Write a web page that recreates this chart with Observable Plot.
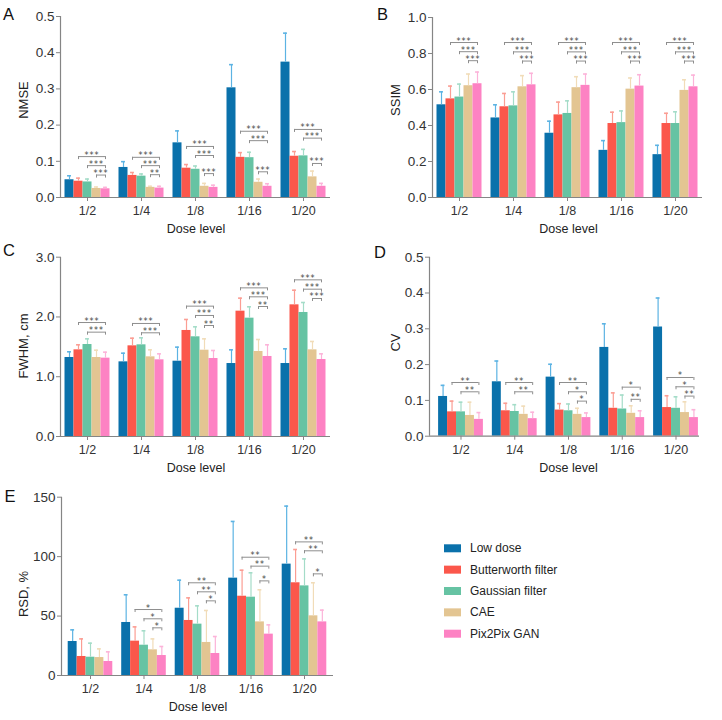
<!DOCTYPE html>
<html>
<head>
<meta charset="utf-8">
<script src="https://cdn.jsdelivr.net/npm/d3@7"></script>
<script src="https://cdn.jsdelivr.net/npm/@observablehq/plot@0.6"></script>
<style>
  body { margin: 0; background: #fff; }
  #root { position: relative; width: 722px; height: 720px; overflow: hidden; font-family: "Liberation Sans", Arial, Helvetica, sans-serif; }
  .panel { position: absolute; }
  #overlay { position: absolute; left: 0; top: 0; pointer-events: none; }
  .panel g[aria-label="text"] text { letter-spacing: 1px; font-family: "DejaVu Sans", sans-serif; }
  .panel g[aria-label="y-axis tick label"] text { font-size: 13.5px; }
</style>
</head>
<body>
<div id="root"></div>
<script>
// ---------- data ----------
const doses = ["1/2", "1/4", "1/8", "1/16", "1/20"];
const methods = ["Low dose", "Butterworth filter", "Gaussian filter", "CAE", "Pix2Pix GAN"];
const methodColors = ["#0a71ab", "#fb574b", "#66c3a3", "#e3c592", "#fd82c3"];
const errorColors = ["#5cb3e3", "#fb9d93", "#a4dcc8", "#f1dcb8", "#fcb3d9"];

// rows = dose level, columns = method
const nmseMean = [
  [0.049, 0.045, 0.043, 0.025, 0.024],
  [0.083, 0.061, 0.059, 0.028, 0.026],
  [0.151, 0.081, 0.078, 0.031, 0.028],
  [0.303, 0.111, 0.110, 0.042, 0.031],
  [0.374, 0.114, 0.115, 0.057, 0.031]
];
const nmseSD = [
  [0.011, 0.0085, 0.008, 0.004, 0.004],
  [0.016, 0.008, 0.006, 0.003, 0.005],
  [0.033, 0.010, 0.009, 0.008, 0.006],
  [0.064, 0.013, 0.015, 0.009, 0.007],
  [0.080, 0.013, 0.018, 0.016, 0.008]
];
// [dose index, method from, method to, label, bracket level]
const nmseSig = [
  [0, 1, 4, "***", 0.113], [0, 2, 4, "***", 0.088], [0, 3, 4, "***", 0.062],
  [1, 1, 4, "***", 0.111], [1, 2, 4, "***", 0.088], [1, 3, 4, "**", 0.063],
  [2, 1, 4, "***", 0.141], [2, 2, 4, "***", 0.116], [2, 3, 4, "***", 0.066],
  [3, 1, 4, "***", 0.183], [3, 2, 4, "***", 0.157], [3, 3, 4, "***", 0.071],
  [4, 1, 4, "***", 0.188], [4, 2, 4, "***", 0.164], [4, 3, 4, "***", 0.094]
];
const nmseTicks = [0, 0.1, 0.2, 0.3, 0.4, 0.5];

const ssimMean = [
  [0.515, 0.548, 0.558, 0.621, 0.632],
  [0.442, 0.504, 0.509, 0.615, 0.626],
  [0.357, 0.459, 0.467, 0.610, 0.623],
  [0.262, 0.411, 0.416, 0.602, 0.619],
  [0.238, 0.411, 0.411, 0.595, 0.615]
];
const ssimSD = [
  [0.072, 0.071, 0.072, 0.065, 0.065],
  [0.073, 0.074, 0.078, 0.062, 0.064],
  [0.067, 0.071, 0.070, 0.061, 0.063],
  [0.054, 0.063, 0.065, 0.062, 0.063],
  [0.052, 0.057, 0.065, 0.059, 0.065]
];
const ssimSig = [
  [0, 1, 4, "***", 0.861], [0, 2, 4, "***", 0.810], [0, 3, 4, "***", 0.760],
  [1, 1, 4, "***", 0.861], [1, 2, 4, "***", 0.809], [1, 3, 4, "***", 0.758],
  [2, 1, 4, "***", 0.861], [2, 2, 4, "***", 0.809], [2, 3, 4, "***", 0.758],
  [3, 1, 4, "***", 0.861], [3, 2, 4, "***", 0.809], [3, 3, 4, "***", 0.758],
  [4, 1, 4, "***", 0.861], [4, 2, 4, "***", 0.809], [4, 3, 4, "***", 0.758]
];
const ssimTicks = [0, 0.2, 0.4, 0.6, 0.8, 1.0];

const fwhmMean = [
  [1.322, 1.450, 1.539, 1.322, 1.311],
  [1.249, 1.517, 1.534, 1.333, 1.283],
  [1.260, 1.774, 1.668, 1.444, 1.305],
  [1.221, 2.097, 1.980, 1.422, 1.339],
  [1.221, 2.203, 2.075, 1.450, 1.288]
];
const fwhmSD = [
  [0.095, 0.084, 0.095, 0.122, 0.100],
  [0.145, 0.128, 0.117, 0.117, 0.100],
  [0.235, 0.184, 0.167, 0.190, 0.134],
  [0.229, 0.218, 0.190, 0.201, 0.195],
  [0.246, 0.245, 0.167, 0.140, 0.095]
];
const fwhmSig = [
  [0, 1, 4, "***", 1.907], [0, 2, 4, "***", 1.746],
  [1, 1, 4, "***", 1.891], [1, 2, 4, "***", 1.735],
  [2, 1, 4, "***", 2.181], [2, 2, 4, "***", 2.025], [2, 3, 4, "**", 1.857],
  [3, 1, 4, "***", 2.487], [3, 2, 4, "***", 2.337], [3, 3, 4, "**", 2.175],
  [4, 1, 4, "***", 2.621], [4, 2, 4, "***", 2.465], [4, 3, 4, "***", 2.309]
];
const fwhmTicks = [0, 1, 2, 3];

const cvMean = [
  [0.111, 0.068, 0.068, 0.058, 0.047],
  [0.152, 0.071, 0.069, 0.061, 0.049],
  [0.165, 0.073, 0.071, 0.061, 0.052],
  [0.248, 0.078, 0.076, 0.064, 0.052],
  [0.305, 0.080, 0.078, 0.066, 0.052]
];
const cvSD = [
  [0.031, 0.030, 0.027, 0.037, 0.019],
  [0.058, 0.021, 0.019, 0.023, 0.018],
  [0.036, 0.018, 0.019, 0.017, 0.013],
  [0.066, 0.043, 0.039, 0.021, 0.019],
  [0.081, 0.033, 0.032, 0.030, 0.022]
];
const cvSig = [
  [0, 1, 4, "**", 0.150], [0, 2, 4, "**", 0.124],
  [1, 1, 4, "**", 0.150], [1, 2, 4, "**", 0.124],
  [2, 1, 4, "**", 0.150], [2, 2, 4, "*", 0.124], [2, 3, 4, "*", 0.098],
  [3, 2, 4, "*", 0.137], [3, 3, 4, "**", 0.103],
  [4, 1, 4, "*", 0.164], [4, 2, 4, "*", 0.138], [4, 3, 4, "**", 0.112]
];
const cvTicks = [0, 0.1, 0.2, 0.3, 0.4, 0.5];

const rsdMean = [
  [28.6, 16.0, 15.4, 15.1, 11.8],
  [44.6, 28.9, 25.5, 21.6, 16.8],
  [56.6, 46.3, 43.2, 27.8, 18.5],
  [81.9, 66.7, 65.9, 45.1, 34.8],
  [93.7, 78.0, 75.4, 50.2, 45.1]
];
const rsdSD = [
  [9.8, 14.8, 11.8, 7.3, 8.1],
  [23.3, 12.0, 12.1, 9.2, 7.6],
  [23.6, 19.0, 15.4, 26.9, 14.3],
  [47.7, 21.9, 20.5, 27.0, 7.8],
  [48.8, 28.0, 22.7, 27.8, 9.9]
];
const rsdSig = [
  [1, 1, 4, "*", 55.5], [1, 2, 4, "*", 47.7], [1, 3, 4, "*", 40.1],
  [2, 1, 4, "**", 78.0], [2, 2, 4, "**", 70.4], [2, 3, 4, "*", 62.8],
  [3, 1, 4, "**", 99.5], [3, 2, 4, "**", 92.0], [3, 3, 4, "*", 79.6],
  [4, 1, 4, "**", 112.4], [4, 2, 4, "**", 104.9], [4, 3, 4, "*", 85.5]
];
const rsdTicks = [0, 50, 100, 150];

// ---------- drawing ----------
const FONT = '"Liberation Sans", Arial, Helvetica, sans-serif';
const AXIS = "#858585";
const BRACKET = "#8e8e8e";

function barPanel(o) {
  const rows = doses.flatMap((dose, g) => methods.map((method, k) => ({
    g, k, dose, method, mean: o.mean[g][k], sd: o.sd[g][k]
  })));
  const bw = 1 / 6;
  const cx = d => d.g + (d.k - 2) * bw;
  const cap = 0.036;
  const sig = o.sig.map(([g, a, b, label, level]) => ({
    label, level, x1: g + (a - 2) * bw, x2: g + (b - 2) * bw
  }));
  const drop = o.ymax * 3 / (240 - o.mt - o.mb);
  return Plot.plot({
    width: 361, height: 240,
    marginTop: o.mt, marginBottom: o.mb, marginLeft: o.ml, marginRight: o.mr,
    style: { fontFamily: FONT, fontSize: "12.5px", color: "#333", background: "transparent", overflow: "visible" },
    x: { type: "linear", domain: o.xdomain },
    y: { type: "linear", domain: [0, o.ymax] },
    color: { type: "identity" },
    marks: [
      Plot.rect(rows, { x1: d => cx(d) - bw / 2, x2: d => cx(d) + bw / 2, y1: 0, y2: "mean", fill: d => methodColors[d.k] }),
      Plot.ruleX(rows, { x: cx, y1: "mean", y2: d => d.mean + d.sd, stroke: d => errorColors[d.k], strokeWidth: 1.2 }),
      Plot.ruleY(rows, { x1: d => cx(d) - cap, x2: d => cx(d) + cap, y: d => d.mean + d.sd, stroke: d => errorColors[d.k], strokeWidth: 1.6 }),
      Plot.ruleY(sig, { x1: "x1", x2: "x2", y: "level", stroke: BRACKET, strokeWidth: 1 }),
      Plot.ruleX(sig, { x: "x1", y1: "level", y2: d => d.level - drop, stroke: BRACKET, strokeWidth: 1 }),
      Plot.ruleX(sig, { x: "x2", y1: "level", y2: d => d.level - drop, stroke: BRACKET, strokeWidth: 1 }),
      Plot.text(sig, { x: d => (d.x1 + d.x2) / 2, y: "level", text: "label", fontSize: 8, lineAnchor: "bottom", dy: 1, fill: "#444" }),
      Plot.ruleY([0], { stroke: AXIS, strokeWidth: 1.2 }),
      Plot.ruleX([o.xdomain[0]], { stroke: AXIS, strokeWidth: 1.2 }),
      Plot.axisY({ ticks: o.yticks, tickFormat: o.yfmt, tickSize: 4, tickPadding: 2, stroke: AXIS, fill: "#333", label: null }),
      Plot.axisX({ ticks: doses.map((_, i) => i), tickFormat: i => doses[i], tickSize: 4, tickPadding: 5, stroke: AXIS, fill: "#333", label: null })
    ]
  });
}

const f1 = d3.format(".1f");
const f0 = d3.format("d");
const panels = [
  { left: 0,   top: 0,   mean: nmseMean, sd: nmseSD, sig: nmseSig, ymax: 0.5, yticks: nmseTicks, yfmt: f1, mt: 16,   mb: 43,   ml: 60, mr: 31, xdomain: [-0.5, 4.5] },
  { left: 361, top: 0,   mean: ssimMean, sd: ssimSD, sig: ssimSig, ymax: 1.0, yticks: ssimTicks, yfmt: f1, mt: 17,   mb: 43,   ml: 71, mr: 20, xdomain: [-0.5, 4.5] },
  { left: 0,   top: 240, mean: fwhmMean, sd: fwhmSD, sig: fwhmSig, ymax: 3.0, yticks: fwhmTicks, yfmt: f1, mt: 16.7, mb: 44,   ml: 60, mr: 31, xdomain: [-0.5, 4.5] },
  { left: 361, top: 240, mean: cvMean,   sd: cvSD,   sig: cvSig,   ymax: 0.5, yticks: cvTicks,   yfmt: f1, mt: 16.7, mb: 44.3, ml: 68, mr: 23, xdomain: [-0.586, 4.437] },
  { left: 0,   top: 480, mean: rsdMean,  sd: rsdSD,  sig: rsdSig,  ymax: 150, yticks: rsdTicks,  yfmt: f0, mt: 16.7, mb: 45,   ml: 61, mr: 28, xdomain: [-0.542, 4.542] }
];

const root = document.getElementById("root");
for (const p of panels) {
  const div = document.createElement("div");
  div.className = "panel";
  div.style.left = p.left + "px";
  div.style.top = p.top + "px";
  div.appendChild(barPanel(p));
  root.appendChild(div);
}

// ---------- overlay text: panel letters, axis titles, legend ----------
const svg = d3.select(root).append("svg")
  .attr("id", "overlay").attr("width", 722).attr("height", 720)
  .style("font-family", FONT);

const letters = [["A", 3, 20], ["B", 377, 19.5], ["C", 3, 256], ["D", 374, 257.5], ["E", 4.5, 501.5]];
svg.selectAll("text.letter").data(letters).join("text")
  .attr("class", "letter").attr("x", d => d[1]).attr("y", d => d[2])
  .attr("font-size", 16.5).attr("fill", "#111").text(d => d[0]);

const yTitles = [["NMSE", 23.5, 100], ["SSIM", 395, 100], ["FWHM, cm", 23.5, 346], ["CV", 395, 342.5], ["RSD, %", 23.5, 594]];
svg.selectAll("text.ytitle").data(yTitles).join("text")
  .attr("class", "ytitle")
  .attr("transform", d => `translate(${d[1]},${d[2]}) rotate(-90)`)
  .attr("text-anchor", "middle").attr("dominant-baseline", "central")
  .attr("font-size", 13).attr("fill", "#222").text(d => d[0]);

const xTitles = [[196, 233], [568.5, 233], [196, 472], [568.5, 472], [198, 711]];
svg.selectAll("text.xtitle").data(xTitles).join("text")
  .attr("class", "xtitle").attr("x", d => d[0]).attr("y", d => d[1])
  .attr("text-anchor", "middle").attr("font-size", 12.5).attr("fill", "#222").text("Dose level");

const legend = svg.append("g").selectAll("g").data(methods).join("g")
  .attr("transform", (d, i) => `translate(444,${548.3 + i * 21.35})`);
legend.append("rect").attr("x", 0).attr("y", -4).attr("width", 17).attr("height", 8)
  .attr("fill", (d, i) => methodColors[i]);
legend.append("text").attr("x", 26).attr("y", 0).attr("dominant-baseline", "central")
  .attr("font-size", 12).attr("fill", "#222").text(d => d);
</script>
</body>
</html>
